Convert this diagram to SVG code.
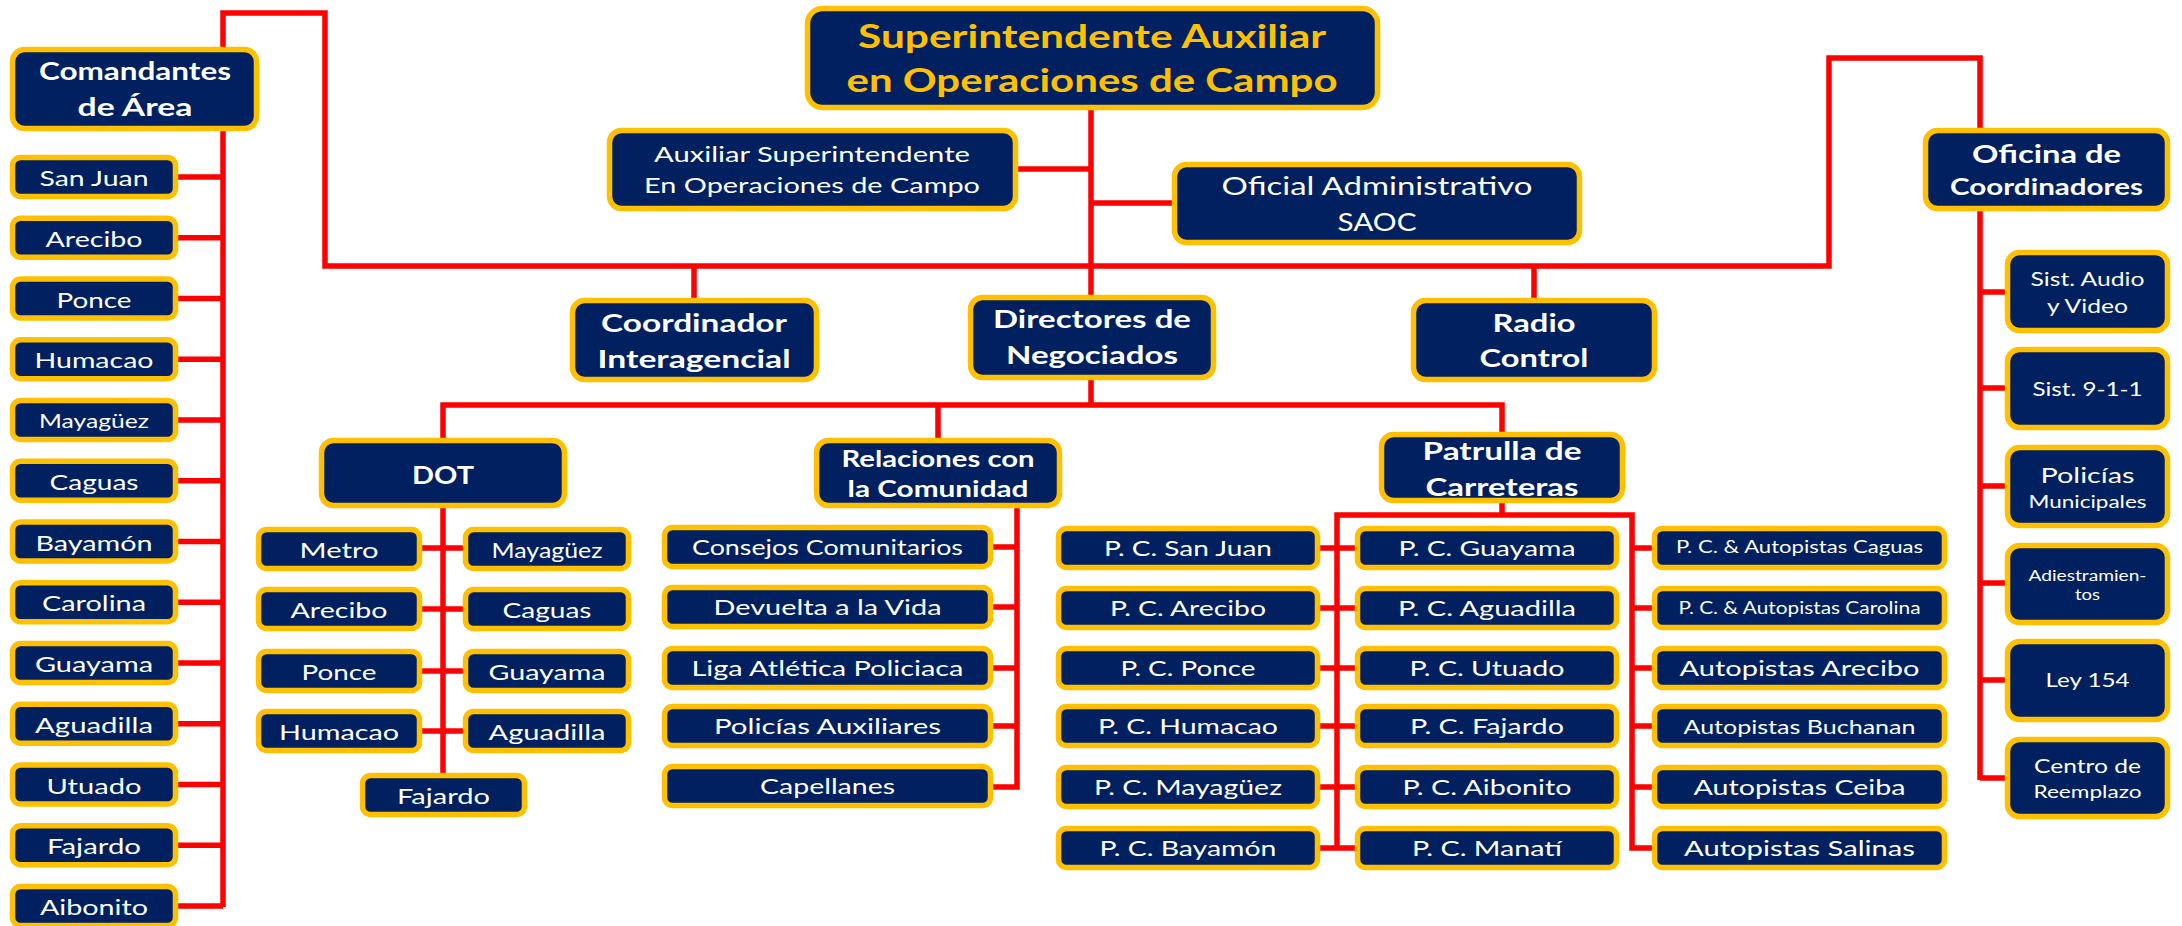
<svg xmlns="http://www.w3.org/2000/svg" width="2182" height="926" viewBox="0 0 2182 926">
<style>
.bx{fill:#002060;stroke:#FFC000;stroke-width:5.5;}
text{font-family:Lato,"Open Sans",sans-serif;fill:#fff;text-anchor:middle;font-size:22px;}
.bd{font-weight:bold;}
.ti{fill:#FFC000;font-weight:bold;font-size:32px;}
.cn{stroke:#FF0000;stroke-width:5.5;fill:none;}
</style>
<g id="connectors" class="cn">
<path d="M223,907 V13 H325 V266 H1829 V58 H1980 V780"/>
<path d="M1091,108 V297"/>
<path d="M1016,169 H1091 M1091,203 H1174"/>
<path d="M694,266 V300 M1534,266 V300"/>
<path d="M176,177 H223 M176,237.75 H223 M176,298.5 H223 M176,359.25 H223 M176,420 H223 M176,480.75 H223 M176,541.5 H223 M176,602.25 H223 M176,663 H223 M176,723.75 H223 M176,784.5 H223 M176,845.25 H223 M176,906 H223"/>
<path d="M1980,292 H2007 M1980,388 H2007 M1980,486 H2007 M1980,583 H2007 M1980,680 H2007 M1980,778 H2007"/>
<path d="M1091,378 V405 M443,440 V405 H1502 V515 M938,405 V440"/>
<path d="M443,506 V775 M420,548 H465 M420,609 H465 M420,671 H465 M420,731 H465"/>
<path d="M1017,506 V787 H991 M991,547 H1017 M991,607 H1017 M991,668 H1017 M991,726 H1017"/>
<path d="M1337,848 V515 H1632 V848 H1654"/>
<path d="M1318,548 H1357 M1318,608 H1357 M1318,668 H1357 M1318,726 H1357 M1318,787 H1357 M1318,848 H1357"/>
<path d="M1632,548 H1654 M1632,608 H1654 M1632,668 H1654 M1632,726 H1654 M1632,787 H1654"/>
</g>
<g id="n-title"><rect class="bx" x="807.5" y="8.5" width="570" height="99" rx="15"/>
<text class="ti" x="1092" y="48" textLength="468" lengthAdjust="spacingAndGlyphs">Superintendente Auxiliar</text>
<text class="ti" x="1092" y="92" textLength="491" lengthAdjust="spacingAndGlyphs">en Operaciones de Campo</text></g>
<g id="n-aux"><rect class="bx" x="609.5" y="130.5" width="406" height="78" rx="12"/>
<text x="812" y="162" textLength="316" lengthAdjust="spacingAndGlyphs">Auxiliar Superintendente</text>
<text x="812" y="193" textLength="336" lengthAdjust="spacingAndGlyphs">En Operaciones  de Campo</text></g>
<g id="n-oficial"><rect class="bx" x="1174.5" y="164.5" width="405" height="78" rx="12"/>
<text x="1377" y="195" style="font-size:25px" textLength="311" lengthAdjust="spacingAndGlyphs">Oficial Administrativo</text>
<text x="1377" y="231" style="font-size:25px" textLength="79" lengthAdjust="spacingAndGlyphs">SAOC</text></g>
<g id="n-coord"><rect class="bx" x="572.5" y="300.5" width="244" height="79" rx="12"/>
<text class="bd" x="694" y="332" style="font-size:24px" textLength="186" lengthAdjust="spacingAndGlyphs">Coordinador</text>
<text class="bd" x="694" y="368" style="font-size:24px" textLength="193" lengthAdjust="spacingAndGlyphs">Interagencial</text></g>
<g id="n-directores"><rect class="bx" x="970.5" y="297.5" width="243" height="80" rx="12"/>
<text class="bd" x="1092" y="328" style="font-size:24px" textLength="198" lengthAdjust="spacingAndGlyphs">Directores de</text>
<text class="bd" x="1092" y="364" style="font-size:24px" textLength="172" lengthAdjust="spacingAndGlyphs">Negociados</text></g>
<g id="n-radio"><rect class="bx" x="1413.5" y="300.5" width="241" height="79" rx="12"/>
<text class="bd" x="1534" y="332" style="font-size:24px" textLength="83" lengthAdjust="spacingAndGlyphs">Radio</text>
<text class="bd" x="1534" y="367" style="font-size:24px" textLength="109" lengthAdjust="spacingAndGlyphs">Control</text></g>
<g id="n-comandantes"><rect class="bx" x="12.5" y="49.5" width="244" height="79" rx="12"/>
<text class="bd" x="135" y="80" style="font-size:25px" textLength="192" lengthAdjust="spacingAndGlyphs">Comandantes</text>
<text class="bd" x="135" y="116" style="font-size:25px" textLength="115" lengthAdjust="spacingAndGlyphs">de Área</text></g>
<g id="n-oficina"><rect class="bx" x="1925.5" y="130.5" width="242" height="78" rx="12"/>
<text class="bd" x="2046.5" y="163" style="font-size:25px" textLength="149" lengthAdjust="spacingAndGlyphs">Oficina de</text>
<text class="bd" x="2046.5" y="195" style="font-size:22px" textLength="193" lengthAdjust="spacingAndGlyphs">Coordinadores</text></g>
<g id="n-a1"><rect class="bx" x="12.5" y="157.5" width="163" height="39" rx="8"/><text x="94" y="186" textLength="109" lengthAdjust="spacingAndGlyphs">San Juan</text></g>
<g id="n-a2"><rect class="bx" x="12.5" y="218.25" width="163" height="39" rx="8"/><text x="94" y="246.75" textLength="97" lengthAdjust="spacingAndGlyphs">Arecibo</text></g>
<g id="n-a3"><rect class="bx" x="12.5" y="279" width="163" height="39" rx="8"/><text x="94" y="307.5" textLength="75" lengthAdjust="spacingAndGlyphs">Ponce</text></g>
<g id="n-a4"><rect class="bx" x="12.5" y="339.75" width="163" height="39" rx="8"/><text x="94" y="368.25" textLength="119" lengthAdjust="spacingAndGlyphs">Humacao</text></g>
<g id="n-a5"><rect class="bx" x="12.5" y="400.5" width="163" height="39" rx="8"/><text x="94" y="428" style="font-size:20px" textLength="110" lengthAdjust="spacingAndGlyphs">Mayagüez</text></g>
<g id="n-a6"><rect class="bx" x="12.5" y="461.25" width="163" height="39" rx="8"/><text x="94" y="489.75" textLength="89" lengthAdjust="spacingAndGlyphs">Caguas</text></g>
<g id="n-a7"><rect class="bx" x="12.5" y="522" width="163" height="39" rx="8"/><text x="94" y="550.5" textLength="117" lengthAdjust="spacingAndGlyphs">Bayamón</text></g>
<g id="n-a8"><rect class="bx" x="12.5" y="582.75" width="163" height="39" rx="8"/><text x="94" y="611.25" textLength="104" lengthAdjust="spacingAndGlyphs">Carolina</text></g>
<g id="n-a9"><rect class="bx" x="12.5" y="643.5" width="163" height="39" rx="8"/><text x="94" y="672" textLength="118" lengthAdjust="spacingAndGlyphs">Guayama</text></g>
<g id="n-a10"><rect class="bx" x="12.5" y="704.25" width="163" height="39" rx="8"/><text x="94" y="732.75" textLength="118" lengthAdjust="spacingAndGlyphs">Aguadilla</text></g>
<g id="n-a11"><rect class="bx" x="12.5" y="765" width="163" height="39" rx="8"/><text x="94" y="793.5" textLength="95" lengthAdjust="spacingAndGlyphs">Utuado</text></g>
<g id="n-a12"><rect class="bx" x="12.5" y="825.75" width="163" height="39" rx="8"/><text x="94" y="854.25" textLength="94" lengthAdjust="spacingAndGlyphs">Fajardo</text></g>
<g id="n-a13"><rect class="bx" x="12.5" y="886.5" width="163" height="39" rx="8"/><text x="94" y="915" textLength="108" lengthAdjust="spacingAndGlyphs">Aibonito</text></g>
<g id="n-dot"><rect class="bx" x="321.5" y="440.5" width="243" height="65" rx="12"/>
<text class="bd" x="443" y="484" style="font-size:25px" textLength="62" lengthAdjust="spacingAndGlyphs">DOT</text></g>
<g id="n-d1"><rect class="bx" x="258.5" y="529.5" width="161" height="39" rx="8"/><text x="339" y="557.5" textLength="79" lengthAdjust="spacingAndGlyphs">Metro</text></g>
<g id="n-d2"><rect class="bx" x="465.5" y="529.5" width="163" height="39" rx="8"/><text x="547" y="557.5" textLength="111" lengthAdjust="spacingAndGlyphs">Mayagüez</text></g>
<g id="n-d3"><rect class="bx" x="258.5" y="589.5" width="161" height="39" rx="8"/><text x="339" y="617.5" textLength="97" lengthAdjust="spacingAndGlyphs">Arecibo</text></g>
<g id="n-d4"><rect class="bx" x="465.5" y="589.5" width="163" height="39" rx="8"/><text x="547" y="617.5" textLength="89" lengthAdjust="spacingAndGlyphs">Caguas</text></g>
<g id="n-d5"><rect class="bx" x="258.5" y="651.5" width="161" height="39" rx="8"/><text x="339" y="679.5" textLength="75" lengthAdjust="spacingAndGlyphs">Ponce</text></g>
<g id="n-d6"><rect class="bx" x="465.5" y="651.5" width="163" height="39" rx="8"/><text x="547" y="679.5" textLength="117" lengthAdjust="spacingAndGlyphs">Guayama</text></g>
<g id="n-d7"><rect class="bx" x="258.5" y="711.5" width="161" height="39" rx="8"/><text x="339" y="739.5" textLength="120" lengthAdjust="spacingAndGlyphs">Humacao</text></g>
<g id="n-d8"><rect class="bx" x="465.5" y="711.5" width="163" height="39" rx="8"/><text x="547" y="739.5" textLength="117" lengthAdjust="spacingAndGlyphs">Aguadilla</text></g>
<g id="n-d9"><rect class="bx" x="362.5" y="775.5" width="162" height="39" rx="8"/><text x="443.5" y="803.5" textLength="93" lengthAdjust="spacingAndGlyphs">Fajardo</text></g>
<g id="n-rel"><rect class="bx" x="816.5" y="440.5" width="243" height="65" rx="12"/>
<text class="bd" x="938" y="467" style="font-size:23px" textLength="193" lengthAdjust="spacingAndGlyphs">Relaciones con</text>
<text class="bd" x="938" y="497" style="font-size:23px" textLength="181" lengthAdjust="spacingAndGlyphs">la Comunidad</text></g>
<g id="n-r1"><rect class="bx" x="664.5" y="527.5" width="326" height="39" rx="8"/><text x="827.5" y="555" textLength="271" lengthAdjust="spacingAndGlyphs">Consejos  Comunitarios</text></g>
<g id="n-r2"><rect class="bx" x="664.5" y="587.5" width="326" height="39" rx="8"/><text x="827.5" y="615" textLength="228" lengthAdjust="spacingAndGlyphs">Devuelta a la Vida</text></g>
<g id="n-r3"><rect class="bx" x="664.5" y="648.5" width="326" height="39" rx="8"/><text x="827.5" y="676" textLength="272" lengthAdjust="spacingAndGlyphs">Liga Atlética Policiaca</text></g>
<g id="n-r4"><rect class="bx" x="664.5" y="706.5" width="326" height="39" rx="8"/><text x="827.5" y="734" textLength="227" lengthAdjust="spacingAndGlyphs">Policías Auxiliares</text></g>
<g id="n-r5"><rect class="bx" x="664.5" y="766.5" width="326" height="39" rx="8"/><text x="827.5" y="794" textLength="135" lengthAdjust="spacingAndGlyphs">Capellanes</text></g>
<g id="n-pat"><rect class="bx" x="1381.5" y="434.5" width="241" height="66" rx="12"/>
<text class="bd" x="1502" y="460" style="font-size:25px" textLength="159" lengthAdjust="spacingAndGlyphs">Patrulla de</text>
<text class="bd" x="1502" y="496" style="font-size:25px" textLength="153" lengthAdjust="spacingAndGlyphs">Carreteras</text></g>
<g id="n-p1"><rect class="bx" x="1058.5" y="528.5" width="259" height="39" rx="8"/><text x="1188" y="556" textLength="168" lengthAdjust="spacingAndGlyphs">P. C. San Juan</text></g>
<g id="n-p2"><rect class="bx" x="1058.5" y="588.5" width="259" height="39" rx="8"/><text x="1188" y="616" textLength="156" lengthAdjust="spacingAndGlyphs">P. C. Arecibo</text></g>
<g id="n-p3"><rect class="bx" x="1058.5" y="648.5" width="259" height="39" rx="8"/><text x="1188" y="676" textLength="135" lengthAdjust="spacingAndGlyphs">P. C. Ponce</text></g>
<g id="n-p4"><rect class="bx" x="1058.5" y="706.5" width="259" height="39" rx="8"/><text x="1188" y="734" textLength="180" lengthAdjust="spacingAndGlyphs">P. C. Humacao</text></g>
<g id="n-p5"><rect class="bx" x="1058.5" y="767.5" width="259" height="39" rx="8"/><text x="1188" y="795" textLength="188" lengthAdjust="spacingAndGlyphs">P. C. Mayagüez</text></g>
<g id="n-p6"><rect class="bx" x="1058.5" y="828.5" width="259" height="39" rx="8"/><text x="1188" y="856" textLength="177" lengthAdjust="spacingAndGlyphs">P. C. Bayamón</text></g>
<g id="n-q1"><rect class="bx" x="1357.5" y="528.5" width="259" height="39" rx="8"/><text x="1487" y="556" textLength="177" lengthAdjust="spacingAndGlyphs">P. C. Guayama</text></g>
<g id="n-q2"><rect class="bx" x="1357.5" y="588.5" width="259" height="39" rx="8"/><text x="1487" y="616" textLength="178" lengthAdjust="spacingAndGlyphs">P. C. Aguadilla</text></g>
<g id="n-q3"><rect class="bx" x="1357.5" y="648.5" width="259" height="39" rx="8"/><text x="1487" y="676" textLength="155" lengthAdjust="spacingAndGlyphs">P. C. Utuado</text></g>
<g id="n-q4"><rect class="bx" x="1357.5" y="706.5" width="259" height="39" rx="8"/><text x="1487" y="734" textLength="154" lengthAdjust="spacingAndGlyphs">P. C. Fajardo</text></g>
<g id="n-q5"><rect class="bx" x="1357.5" y="767.5" width="259" height="39" rx="8"/><text x="1487" y="795" textLength="169" lengthAdjust="spacingAndGlyphs">P. C. Aibonito</text></g>
<g id="n-q6"><rect class="bx" x="1357.5" y="828.5" width="259" height="39" rx="8"/><text x="1487" y="856" textLength="150" lengthAdjust="spacingAndGlyphs">P. C. Manatí</text></g>
<g id="n-u1"><rect class="bx" x="1654.5" y="528.5" width="290" height="39" rx="8"/><text x="1799.5" y="553" style="font-size:17px" textLength="247" lengthAdjust="spacingAndGlyphs">P. C. &amp; Autopistas Caguas</text></g>
<g id="n-u2"><rect class="bx" x="1654.5" y="588.5" width="290" height="39" rx="8"/><text x="1799.5" y="614" style="font-size:16.5px" textLength="242" lengthAdjust="spacingAndGlyphs">P. C. &amp; Autopistas Carolina</text></g>
<g id="n-u3"><rect class="bx" x="1654.5" y="648.5" width="290" height="39" rx="8"/><text x="1799.5" y="676" textLength="240" lengthAdjust="spacingAndGlyphs">Autopistas Arecibo</text></g>
<g id="n-u4"><rect class="bx" x="1654.5" y="706.5" width="290" height="39" rx="8"/><text x="1799.5" y="734" style="font-size:20px" textLength="232" lengthAdjust="spacingAndGlyphs">Autopistas Buchanan</text></g>
<g id="n-u5"><rect class="bx" x="1654.5" y="767.5" width="290" height="39" rx="8"/><text x="1799.5" y="795" textLength="212" lengthAdjust="spacingAndGlyphs">Autopistas Ceiba</text></g>
<g id="n-u6"><rect class="bx" x="1654.5" y="828.5" width="290" height="39" rx="8"/><text x="1799.5" y="856" textLength="231" lengthAdjust="spacingAndGlyphs">Autopistas Salinas</text></g>
<g id="n-o1"><rect class="bx" x="2007.5" y="252.5" width="160" height="78" rx="12"/>
<text x="2087.5" y="286" style="font-size:20px" textLength="114" lengthAdjust="spacingAndGlyphs">Sist. Audio</text>
<text x="2087.5" y="313" style="font-size:20px" textLength="81" lengthAdjust="spacingAndGlyphs">y Video</text></g>
<g id="n-o2"><rect class="bx" x="2007.5" y="349.5" width="160" height="78" rx="12"/>
<text x="2087.5" y="396" style="font-size:20px" textLength="110" lengthAdjust="spacingAndGlyphs">Sist. 9-1-1</text></g>
<g id="n-o3"><rect class="bx" x="2007.5" y="447.5" width="160" height="78" rx="12"/>
<text x="2087.5" y="483" style="font-size:21px" textLength="94" lengthAdjust="spacingAndGlyphs">Policías</text>
<text x="2087.5" y="508" style="font-size:17px" textLength="118" lengthAdjust="spacingAndGlyphs">Municipales</text></g>
<g id="n-o4"><rect class="bx" x="2007.5" y="545.5" width="160" height="77" rx="12"/>
<text x="2087.5" y="581" style="font-size:15.5px" textLength="118" lengthAdjust="spacingAndGlyphs">Adiestramien-</text>
<text x="2087.5" y="600" style="font-size:15.5px" textLength="25" lengthAdjust="spacingAndGlyphs">tos</text></g>
<g id="n-o5"><rect class="bx" x="2007.5" y="641.5" width="160" height="78" rx="12"/>
<text x="2087.5" y="687" style="font-size:20px" textLength="84" lengthAdjust="spacingAndGlyphs">Ley 154</text></g>
<g id="n-o6"><rect class="bx" x="2007.5" y="739.5" width="160" height="77" rx="12"/>
<text x="2087.5" y="773" style="font-size:20px" textLength="107" lengthAdjust="spacingAndGlyphs">Centro de</text>
<text x="2087.5" y="798" style="font-size:17px" textLength="108" lengthAdjust="spacingAndGlyphs">Reemplazo</text></g>
</svg>
